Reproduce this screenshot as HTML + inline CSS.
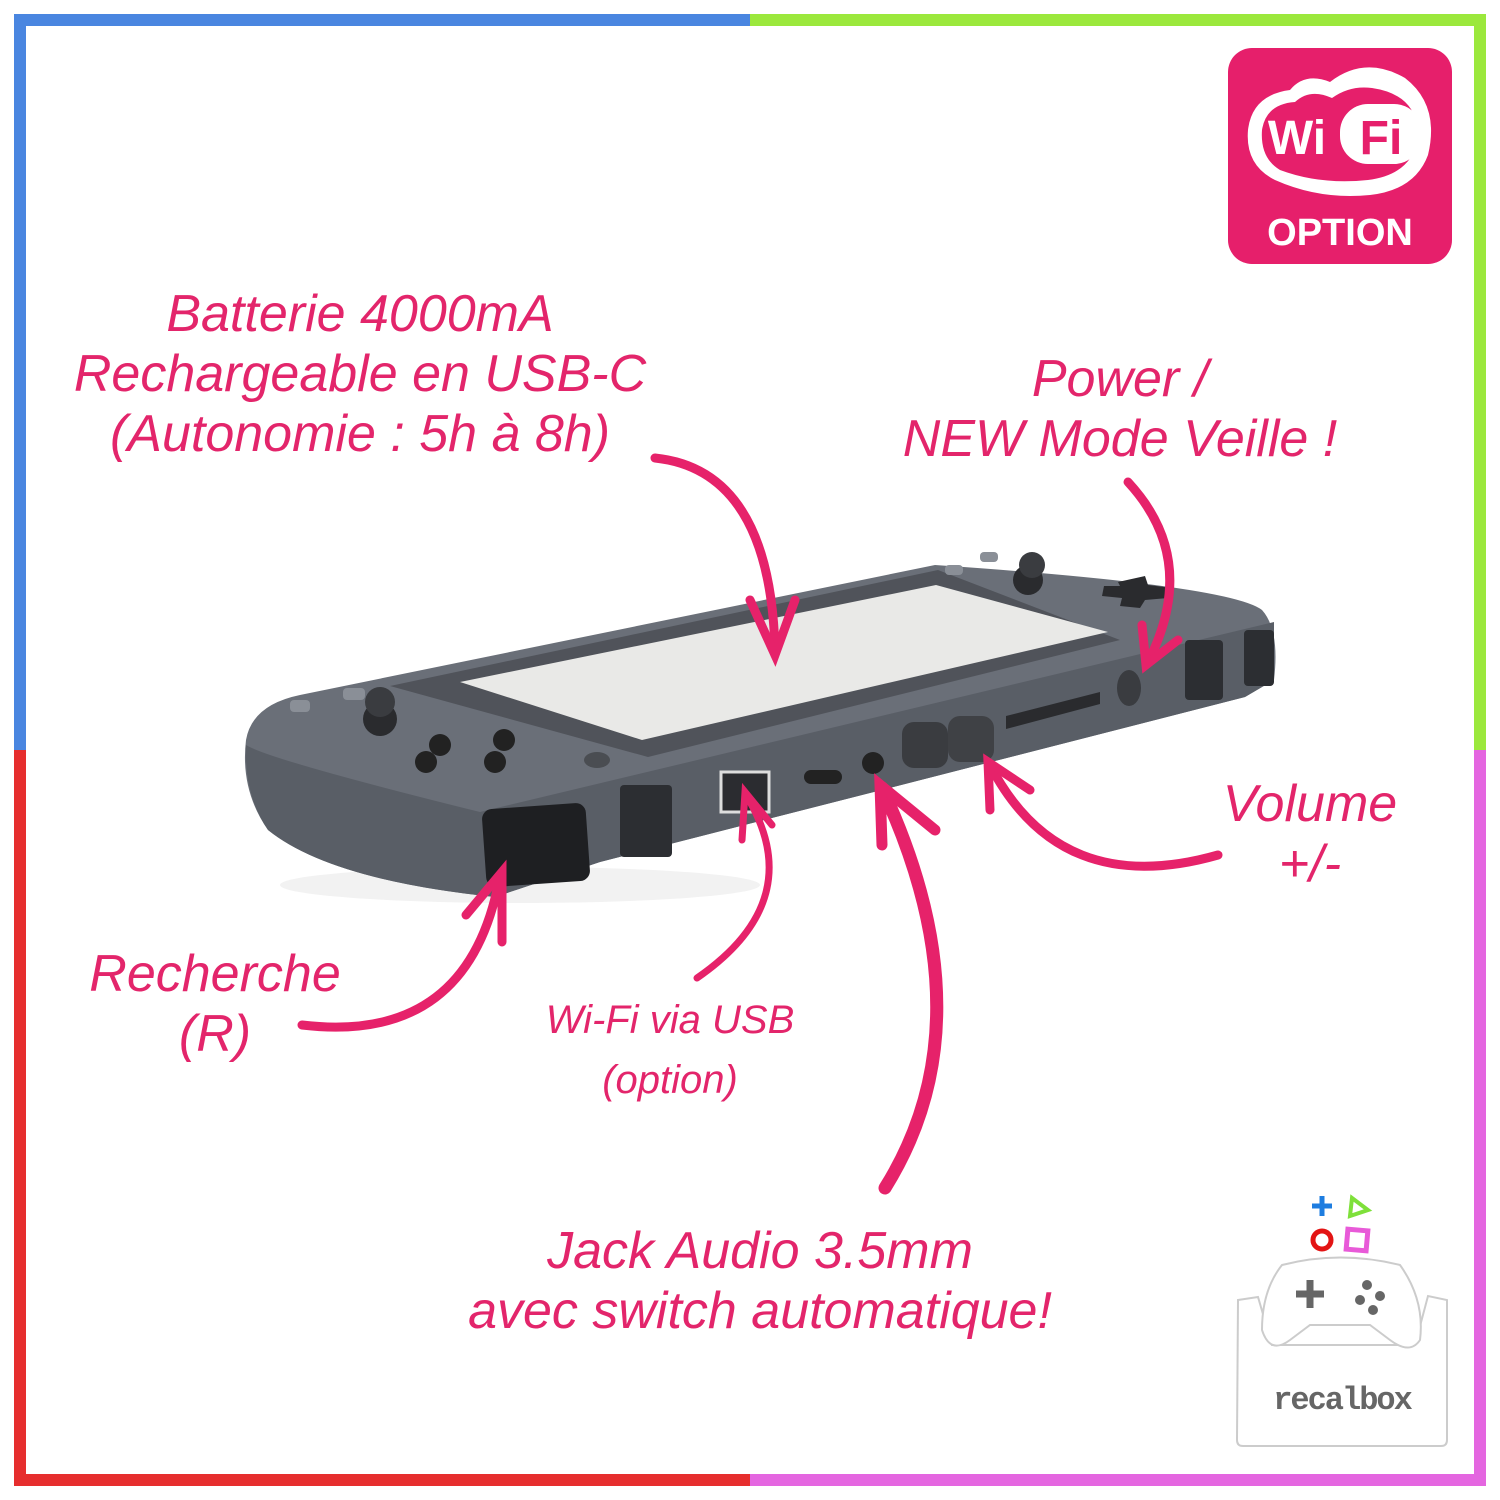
<!DOCTYPE html>
<html><head><meta charset="utf-8"><style>
html,body{margin:0;padding:0;background:#fff}
body{width:1500px;height:1500px;position:relative;overflow:hidden;font-family:"Liberation Sans",sans-serif}
.b{position:absolute}
.t{position:absolute;color:#e3256b;font-style:italic;text-align:center;white-space:nowrap;line-height:1.15}
</style></head><body>
<div class="b" style="left:14px;top:14px;width:736px;height:12px;background:#4a86e0"></div>
<div class="b" style="left:750px;top:14px;width:736px;height:12px;background:#9be83c"></div>
<div class="b" style="left:14px;top:14px;width:12px;height:736px;background:#4a86e0"></div>
<div class="b" style="left:1474px;top:14px;width:12px;height:736px;background:#9be83c"></div>
<div class="b" style="left:14px;top:750px;width:12px;height:736px;background:#e62e2e"></div>
<div class="b" style="left:1474px;top:750px;width:12px;height:736px;background:#e466e0"></div>
<div class="b" style="left:14px;top:1474px;width:736px;height:12px;background:#e62e2e"></div>
<div class="b" style="left:750px;top:1474px;width:736px;height:12px;background:#e466e0"></div>

<svg class="b" style="left:0;top:0" width="1500" height="1500" viewBox="0 0 1500 1500">
<!-- device -->
<ellipse cx="520" cy="885" rx="240" ry="18" fill="#f2f2f2"/>
<path d="M300,695 L935,565 Q1230,585 1262,610 Q1280,630 1274,680 L1245,697 L600,862 L495,897 Q330,880 268,830 Q240,790 246,740 Q252,705 300,695Z" fill="#6a6f78"/>
<path d="M246,745 Q270,760 480,812 L1274,622 L1274,680 L1245,697 L600,862 L495,897 Q330,880 268,830 Q244,795 246,745Z" fill="#595e66"/>
<path d="M390,686 L938,570 L1120,640 L648,757Z" fill="#50535a"/>
<path d="M460,682 L936,585 L1108,632 L642,740Z" fill="#e9e9e7"/>
<rect x="484" y="806" width="104" height="78" rx="10" fill="#1e1f22" transform="rotate(-4 536 845)"/>
<rect x="620" y="785" width="52" height="72" rx="4" fill="#2c2e32"/>
<rect x="1185" y="640" width="38" height="60" rx="4" fill="#2c2e32"/>
<rect x="1244" y="630" width="30" height="56" rx="4" fill="#2c2e32"/>
<rect x="721" y="772" width="48" height="40" fill="#2b2c30" stroke="#ddd" stroke-width="3"/>
<rect x="804" y="770" width="38" height="14" rx="7" fill="#222"/>
<circle cx="873" cy="763" r="11" fill="#222"/>
<rect x="902" y="722" width="46" height="46" rx="12" fill="#3a3c40"/>
<rect x="948" y="716" width="46" height="46" rx="12" fill="#3f4145"/>
<polygon points="1006,716 1100,692 1100,704 1006,729" fill="#2a2b2e"/>
<ellipse cx="1129" cy="688" rx="12" ry="18" fill="#3a3c40"/>
<circle cx="380" cy="719" r="17" fill="#2a2b2e"/><circle cx="380" cy="702" r="15" fill="#3a3c40"/>
<circle cx="440" cy="745" r="11" fill="#222"/><circle cx="504" cy="740" r="11" fill="#222"/>
<circle cx="426" cy="762" r="11" fill="#222"/><circle cx="495" cy="762" r="11" fill="#222"/>
<ellipse cx="597" cy="760" rx="13" ry="8" fill="#4a4d52"/>
<rect x="290" y="700" width="20" height="12" rx="4" fill="#8a8f97"/><rect x="343" y="688" width="22" height="12" rx="4" fill="#8a8f97"/>
<circle cx="1028" cy="580" r="15" fill="#2a2b2e"/><circle cx="1032" cy="565" r="13" fill="#3a3c40"/>
<path d="M1118,582 L1145,576 L1148,585 L1172,588 L1168,598 L1145,600 L1140,608 L1120,606 L1122,598 L1102,596 L1104,586 L1120,586Z" fill="#2a2b2e"/>
<rect x="945" y="565" width="18" height="10" rx="4" fill="#8a8f97"/><rect x="980" y="552" width="18" height="10" rx="4" fill="#8a8f97"/>
<!-- arrows -->
<g fill="none" stroke="#e6226a" stroke-width="9" stroke-linecap="round">
<path d="M655,458 Q770,470 775,650"/>
<path d="M750,600 L775,655 L795,600"/>
<path d="M1128,482 Q1200,560 1148,662"/>
<path d="M1142,625 L1146,665 L1178,640"/>
<path d="M1218,855 Q1060,900 990,765"/>
<path d="M990,810 L988,762 L1030,790"/>
<path d="M885,1188 Q990,1020 882,788" stroke-width="13"/>
<path d="M882,845 L880,785 L935,830" stroke-width="11"/>
<path d="M697,978 Q810,900 746,795" stroke-width="7"/>
<path d="M742,840 L745,792 L772,825" stroke-width="7"/>
<path d="M302,1025 Q470,1045 500,875"/>
<path d="M466,915 L502,872 L502,942"/>
</g>
<!-- wifi badge -->
<rect x="1228" y="48" width="224" height="216" rx="24" fill="#e61f6b"/>
<path d="M1275,180 Q1245,165 1248,130 Q1252,95 1290,90 Q1305,72 1330,82 Q1365,55 1405,78 Q1440,105 1428,155 Q1415,190 1370,195 Q1320,200 1275,180Z" fill="#fff"/>
<path d="M1280,170 Q1260,158 1262,130 Q1266,104 1295,102 Q1310,88 1332,98 Q1350,85 1372,88 Q1420,95 1418,140 Q1410,175 1368,180 Q1320,185 1280,170Z" fill="#e61f6b"/>
<rect x="1340" y="104" width="82" height="60" rx="28" fill="#fff"/>
<text x="1297" y="154" font-size="48" font-weight="bold" fill="#fff" text-anchor="middle" font-family="Liberation Sans">Wi</text>
<text x="1381" y="154" font-size="48" font-weight="bold" fill="#e61f6b" text-anchor="middle" font-family="Liberation Sans">Fi</text>
<text x="1340" y="245" font-size="38" font-weight="bold" fill="#fff" text-anchor="middle" font-family="Liberation Sans">OPTION</text>
<!-- recalbox -->
<g>
<path d="M1238,1300 L1258,1297 L1272,1345 L1415,1345 L1428,1296 L1447,1300 L1447,1440 Q1447,1446 1441,1446 L1243,1446 Q1237,1446 1237,1440Z" fill="#fff" stroke="#ccc" stroke-width="2"/>
<path d="M1282,1265 Q1340,1250 1400,1265 Q1425,1300 1420,1340 Q1410,1355 1390,1340 L1370,1325 L1310,1325 L1290,1340 Q1270,1355 1262,1330 Q1262,1290 1282,1265Z" fill="#fff" stroke="#ccc" stroke-width="2"/>
<path d="M1310,1280 v28 M1296,1294 h28" stroke="#666" stroke-width="7"/>
<circle cx="1367" cy="1285" r="5" fill="#666"/><circle cx="1380" cy="1296" r="5" fill="#666"/><circle cx="1360" cy="1300" r="5" fill="#666"/><circle cx="1373" cy="1310" r="5" fill="#666"/>
<text x="1342" y="1409" font-size="32" font-weight="bold" fill="#666" text-anchor="middle" font-family="Liberation Mono" letter-spacing="-2">recalbox</text>
<path d="M1322,1196 v20 M1312,1206 h20" stroke="#1e7de0" stroke-width="5"/>
<path d="M1352,1198 L1368,1210 L1350,1216Z" fill="none" stroke="#7ee03a" stroke-width="4"/>
<circle cx="1322" cy="1240" r="9" fill="none" stroke="#e31414" stroke-width="5"/>
<rect x="1347" y="1230" width="20" height="20" fill="none" stroke="#e85ad8" stroke-width="5" transform="rotate(5 1357 1240)"/>
</g>
</svg>

<div class="t" style="left:40px;top:285px;width:640px;font-size:52px">Batterie 4000mA<br>Rechargeable en USB-C<br>(Autonomie : 5h à 8h)</div>
<div class="t" style="left:870px;top:350px;width:500px;font-size:52px">Power /<br>NEW Mode Veille !</div>
<div class="t" style="left:1200px;top:775px;width:220px;font-size:52px">Volume<br>+/-</div>
<div class="t" style="left:70px;top:945px;width:290px;font-size:52px">Recherche<br>(R)</div>
<div class="t" style="left:520px;top:990px;width:300px;font-size:40px;line-height:1.5">Wi-Fi via USB<br>(option)</div>
<div class="t" style="left:440px;top:1222px;width:640px;font-size:52px">Jack Audio 3.5mm<br>avec switch automatique!</div>
</body></html>
